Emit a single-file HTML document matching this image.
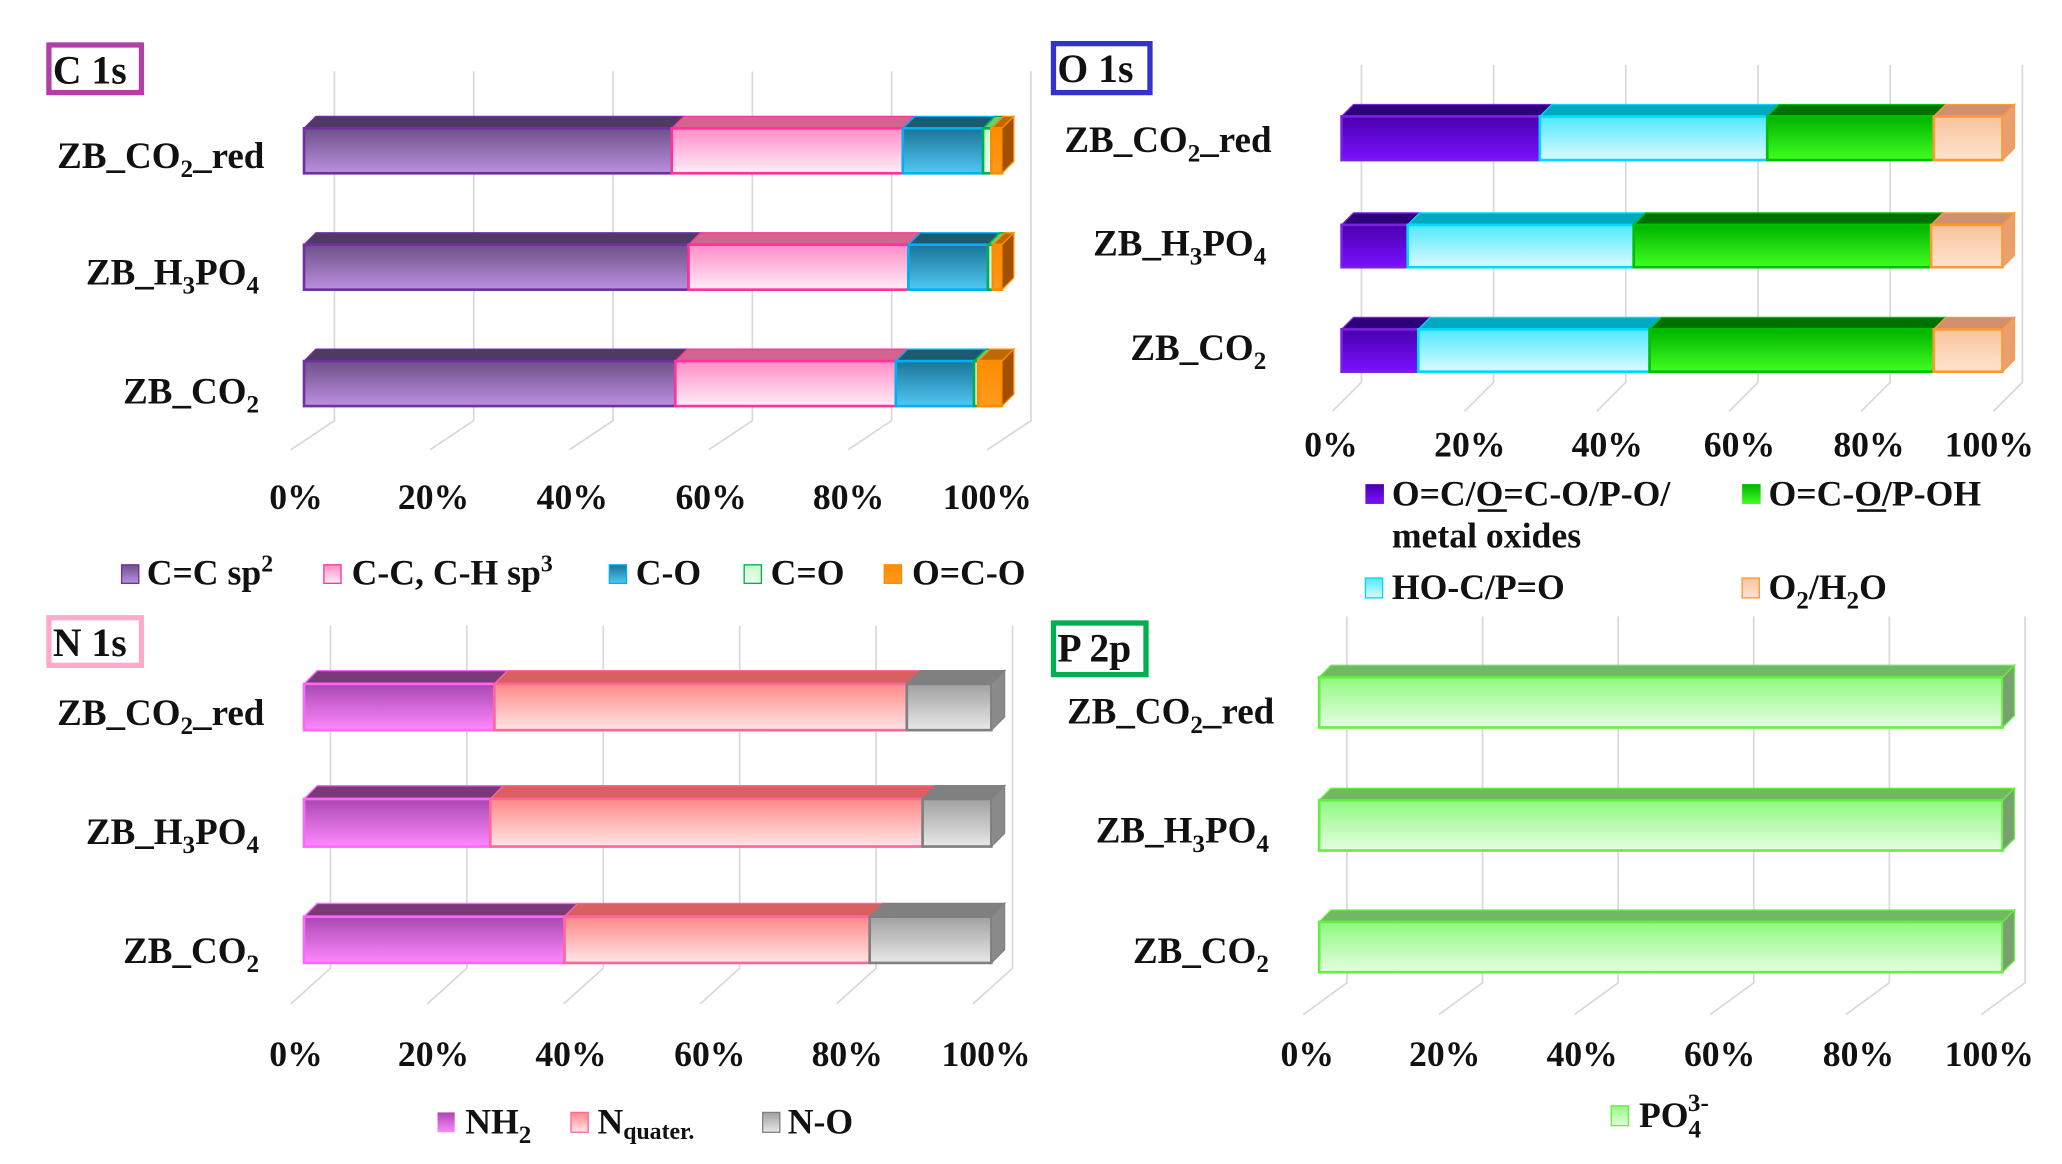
<!DOCTYPE html>
<html><head><meta charset="utf-8"><style>
html,body{margin:0;padding:0;background:#fff;}
svg{display:block;}
text{font-family:"Liberation Serif",serif;font-weight:bold;fill:#111;}
</style></head><body>
<svg id="s" width="2062" height="1164" viewBox="0 0 1560 880" preserveAspectRatio="none" xmlns="http://www.w3.org/2000/svg">
<defs>
<linearGradient id="gPur" x1="0" y1="0" x2="0" y2="1"><stop offset="0" stop-color="#6e5088"/><stop offset="1" stop-color="#bb90e0"/></linearGradient>
<linearGradient id="gPink" x1="0" y1="0" x2="0" y2="1"><stop offset="0" stop-color="#ff8cc8"/><stop offset="1" stop-color="#ffeef6"/></linearGradient>
<linearGradient id="gBlue" x1="0" y1="0" x2="0" y2="1"><stop offset="0" stop-color="#1a7498"/><stop offset="1" stop-color="#50c8f4"/></linearGradient>
<linearGradient id="gLG" x1="0" y1="0" x2="0" y2="1"><stop offset="0" stop-color="#c8f8c8"/><stop offset="1" stop-color="#f0fff0"/></linearGradient>
<linearGradient id="gOr" x1="0" y1="0" x2="0" y2="1"><stop offset="0" stop-color="#ff8c00"/><stop offset="1" stop-color="#ff9a20"/></linearGradient>
<linearGradient id="gVio" x1="0" y1="0" x2="0" y2="1"><stop offset="0" stop-color="#4a00b0"/><stop offset="1" stop-color="#7a10ff"/></linearGradient>
<linearGradient id="gCy" x1="0" y1="0" x2="0" y2="1"><stop offset="0" stop-color="#50e8ff"/><stop offset="1" stop-color="#dcfaff"/></linearGradient>
<linearGradient id="gGr" x1="0" y1="0" x2="0" y2="1"><stop offset="0" stop-color="#00b400"/><stop offset="1" stop-color="#40ff20"/></linearGradient>
<linearGradient id="gPe" x1="0" y1="0" x2="0" y2="1"><stop offset="0" stop-color="#f8c49c"/><stop offset="1" stop-color="#fde4d0"/></linearGradient>
<linearGradient id="gMag" x1="0" y1="0" x2="0" y2="1"><stop offset="0" stop-color="#a848b0"/><stop offset="1" stop-color="#ff88ff"/></linearGradient>
<linearGradient id="gSal" x1="0" y1="0" x2="0" y2="1"><stop offset="0" stop-color="#ff8888"/><stop offset="1" stop-color="#ffe6e6"/></linearGradient>
<linearGradient id="gGy" x1="0" y1="0" x2="0" y2="1"><stop offset="0" stop-color="#a0a0a0"/><stop offset="1" stop-color="#e8e8e8"/></linearGradient>
<linearGradient id="gLime" x1="0" y1="0" x2="0" y2="1"><stop offset="0" stop-color="#90f880"/><stop offset="1" stop-color="#e4ffe0"/></linearGradient>
</defs>
<g id="grid" stroke="#d9d9d9" stroke-width="1.3" fill="none"></g>
<g id="bars"></g>

<!-- panel titles -->
<rect x="37" y="34" width="70" height="36" fill="none" stroke="#b040a8" stroke-width="4"/>
<text x="40" y="63" font-size="30">C 1s</text>
<rect x="797" y="33" width="73" height="37" fill="none" stroke="#3333cc" stroke-width="4"/>
<text x="800" y="62" font-size="30">O 1s</text>
<rect x="37" y="467" width="70" height="36" fill="none" stroke="#ffaacc" stroke-width="4"/>
<text x="40" y="496" font-size="30">N 1s</text>
<rect x="797" y="471" width="70" height="39" fill="none" stroke="#00b050" stroke-width="4"/>
<text x="800" y="500" font-size="30">P 2p</text>

<!-- category labels -->
<g font-size="28">
<text x="200" y="127" text-anchor="end">ZB_CO<tspan dy="7" font-size="19">2</tspan><tspan dy="-7">_red</tspan></text>
<text x="196" y="215" text-anchor="end">ZB_H<tspan dy="7" font-size="19">3</tspan><tspan dy="-7">PO</tspan><tspan dy="7" font-size="19">4</tspan></text>
<text x="196" y="305" text-anchor="end">ZB_CO<tspan dy="7" font-size="19">2</tspan></text>

<text x="962" y="115" text-anchor="end">ZB_CO<tspan dy="7" font-size="19">2</tspan><tspan dy="-7">_red</tspan></text>
<text x="958" y="193" text-anchor="end">ZB_H<tspan dy="7" font-size="19">3</tspan><tspan dy="-7">PO</tspan><tspan dy="7" font-size="19">4</tspan></text>
<text x="958" y="272" text-anchor="end">ZB_CO<tspan dy="7" font-size="19">2</tspan></text>

<text x="200" y="548" text-anchor="end">ZB_CO<tspan dy="7" font-size="19">2</tspan><tspan dy="-7">_red</tspan></text>
<text x="196" y="638" text-anchor="end">ZB_H<tspan dy="7" font-size="19">3</tspan><tspan dy="-7">PO</tspan><tspan dy="7" font-size="19">4</tspan></text>
<text x="196" y="728" text-anchor="end">ZB_CO<tspan dy="7" font-size="19">2</tspan></text>

<text x="964" y="547" text-anchor="end">ZB_CO<tspan dy="7" font-size="19">2</tspan><tspan dy="-7">_red</tspan></text>
<text x="960" y="637" text-anchor="end">ZB_H<tspan dy="7" font-size="19">3</tspan><tspan dy="-7">PO</tspan><tspan dy="7" font-size="19">4</tspan></text>
<text x="960" y="728" text-anchor="end">ZB_CO<tspan dy="7" font-size="19">2</tspan></text>
</g>

<!-- ticks -->
<g font-size="27" text-anchor="middle">
<text x="224" y="385">0%</text><text x="328" y="385">20%</text><text x="433" y="385">40%</text><text x="538" y="385">60%</text><text x="642" y="385">80%</text><text x="747" y="385">100%</text>
<text x="1007" y="345">0%</text><text x="1112" y="345">20%</text><text x="1216" y="345">40%</text><text x="1316" y="345">60%</text><text x="1414" y="345">80%</text><text x="1505" y="345">100%</text>
<text x="224" y="806">0%</text><text x="328" y="806">20%</text><text x="432" y="806">40%</text><text x="537" y="806">60%</text><text x="641" y="806">80%</text><text x="746" y="806">100%</text>
<text x="989" y="806">0%</text><text x="1093" y="806">20%</text><text x="1197" y="806">40%</text><text x="1301" y="806">60%</text><text x="1406" y="806">80%</text><text x="1505" y="806">100%</text>
</g>

<!-- legends -->
<g font-size="27">
<rect x="92" y="427" width="13" height="14" fill="url(#gPur)" stroke="#7030a0"/>
<text x="111" y="442">C=C sp<tspan dy="-10" font-size="18">2</tspan></text>
<rect x="245" y="427" width="13" height="14" fill="url(#gPink)" stroke="#ff3399"/>
<text x="266" y="442">C-C, C-H sp<tspan dy="-10" font-size="18">3</tspan></text>
<rect x="461" y="427" width="13" height="14" fill="url(#gBlue)" stroke="#00b0f0"/>
<text x="481" y="442">C-O</text>
<rect x="563" y="427" width="13" height="14" fill="url(#gLG)" stroke="#00b050"/>
<text x="583" y="442">C=O</text>
<rect x="669" y="427" width="13" height="14" fill="url(#gOr)" stroke="#ff8c00"/>
<text x="690" y="442">O=C-O</text>

<rect x="1033" y="366" width="14" height="15" fill="url(#gVio)"/>
<text x="1053" y="382">O=C/O=C-O/P-O/</text>
<line x1="1118" y1="386" x2="1140" y2="386" stroke="#111" stroke-width="2"/>
<text x="1053" y="414">metal oxides</text>
<rect x="1318" y="366" width="14" height="15" fill="url(#gGr)"/>
<text x="1338" y="382">O=C-O/P-OH</text>
<line x1="1405" y1="386" x2="1427" y2="386" stroke="#111" stroke-width="2"/>
<rect x="1033" y="437" width="13" height="15" fill="url(#gCy)" stroke="#00d8ff"/>
<text x="1053" y="453">HO-C/P=O</text>
<rect x="1318" y="437" width="13" height="15" fill="url(#gPe)" stroke="#ff9933"/>
<text x="1338" y="453">O<tspan dy="7" font-size="19">2</tspan><tspan dy="-7">/H</tspan><tspan dy="7" font-size="19">2</tspan><tspan dy="-7">O</tspan></text>

<rect x="331" y="841" width="13" height="15" fill="url(#gMag)"/>
<text x="352" y="857">NH<tspan dy="7" font-size="19">2</tspan></text>
<rect x="432" y="841" width="13" height="15" fill="url(#gSal)" stroke="#ff6699"/>
<text x="452" y="857">N<tspan dy="4" font-size="18">quater.</tspan></text>
<rect x="577" y="841" width="13" height="15" fill="url(#gGy)" stroke="#808080"/>
<text x="596" y="857">N-O</text>

<rect x="1219" y="836" width="13" height="15" fill="url(#gLime)" stroke="#66ee44"/>
<text x="1240" y="852">PO<tspan dy="8" font-size="19">4</tspan><tspan dx="-10" dy="-20" font-size="19">3-</tspan></text>
</g>
</svg>
<script>
(function(){
var NS="http://www.w3.org/2000/svg";
var grid=document.getElementById("grid"),bars=document.getElementById("bars");
function el(p,t,a){var e=document.createElementNS(NS,t);for(var k in a)e.setAttribute(k,a[k]);p.appendChild(e);return e;}
function grids(x0,step,top,bot,fdx,fy){for(var i=0;i<6;i++){var x=x0+i*step;el(grid,"polyline",{points:x+","+top+" "+x+","+bot+" "+(x+fdx)+","+fy});}}
grids(253,105.4,54,318,-33,340);
grids(1030,100,49,289,-22,311);
grids(250,103.2,473,732,-30,759);
grids(1019,102.6,466,743,-33,767);
function bar(x0,x1,y,h,d,br,segs){
  var W=x1-x0,a=0;
  for(var i=0;i<segs.length;i++){
    var s=segs[i],b=(i==segs.length-1)?1:br[i];
    var xa=x0+a*W,xb=x0+b*W;
    el(bars,"polygon",{points:xa+","+y+" "+(xa+d)+","+(y-d)+" "+(xb+d)+","+(y-d)+" "+xb+","+y,fill:s[2],stroke:s[1],"stroke-width":1});
    el(bars,"rect",{x:xa,y:y,width:xb-xa,height:h,fill:"url(#"+s[0]+")",stroke:s[1],"stroke-width":2});
    if(i==segs.length-1) el(bars,"polygon",{points:xb+","+y+" "+(xb+d)+","+(y-d)+" "+(xb+d)+","+(y+h-d)+" "+xb+","+(y+h),fill:s[3]||s[2],stroke:s[1],"stroke-width":1});
    a=b;
  }
}
var C=[["gPur","#7030a0","#4e3a62"],["gPink","#ff3399","#d2648f"],["gBlue","#00b0f0","#1c5a70"],["gLG","#00b050","#6ad06a"],["gOr","#ff8c00","#c06800","#a05000"]];
bar(230,758,97,34,9,[0.527,0.858,0.973,0.985],C);
bar(230,758,185,34,9,[0.551,0.866,0.98,0.987],C);
bar(230,758,273,34,9,[0.532,0.848,0.96,0.966],C);
var O=[["gVio","#7a20e0","#2c0078"],["gCy","#00d8ff","#00a8c0"],["gGr","#00c000","#007000"],["gPe","#ff9933","#d09070","#e8a070"]];
bar(1015,1515,88,33,9,[0.30,0.644,0.896],O);
bar(1015,1515,170,32,9,[0.10,0.442,0.892],O);
bar(1015,1515,249,32,9,[0.116,0.466,0.896],O);
var N=[["gMag","#ff66ff","#7a3a78"],["gSal","#ff6699","#d86060"],["gGy","#808080","#808080","#8a8a8a"]];
bar(230,750,517,35,10,[0.277,0.877],N);
bar(230,750,604,36,10,[0.271,0.90],N);
bar(230,750,693,35,10,[0.379,0.823],N);
var P=[["gLime","#66ee44","#72b862","#78a070"]];
bar(998,1515,512,38,9,[],P);
bar(998,1515,605,38,9,[],P);
bar(998,1515,697,38,9,[],P);
})();
</script>
</body></html>
